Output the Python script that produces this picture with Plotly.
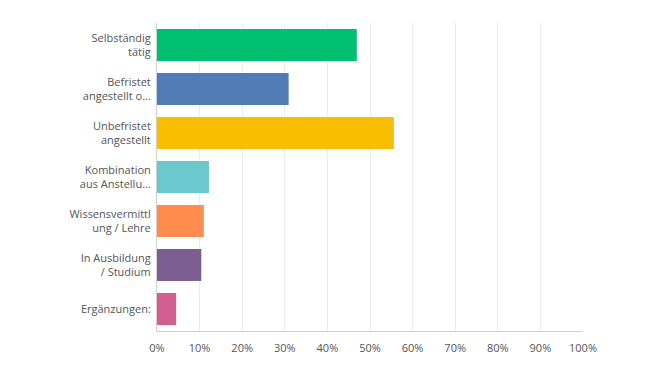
import plotly.graph_objects as go

categories = ["Selbständig<br>tätig", "Befristet<br>angestellt o...", "Unbefristet<br>angestellt",
              "Kombination<br>aus Anstellu...", "Wissensvermittl<br>ung / Lehre",
              "In Ausbildung<br>/ Studium", "Ergänzungen:"]
values = [46.9, 30.9, 55.6, 12.2, 11.0, 10.4, 4.5]
colors = ["#00BF6F", "#507CB6", "#F9BE00", "#6BC8CD", "#FF8B4F", "#7D5E90", "#D25F90"]
tick_vals = [0, 10, 20, 30, 40, 50, 60, 70, 80, 90, 100]
tick_text = [f"{v}%" for v in tick_vals]

fig = go.Figure(go.Bar(
    x=values, y=categories, orientation="h",
    marker=dict(color=colors, line=dict(width=0)),
    hoverinfo="skip",
))

# page body has an 8px default margin, so the figure is offset by 8px
fig.update_layout(
    width=659, height=365,
    margin=dict(l=149, r=84, t=15, b=42, autoexpand=False),
    paper_bgcolor="white", plot_bgcolor="white",
    bargap=0.27,
    showlegend=False,
    font=dict(family="Open Sans, sans-serif", color="#555", size=11),
    xaxis=dict(range=[0, 100], tickvals=tick_vals, ticktext=tick_text,
               showgrid=True, gridcolor="#ebebeb", gridwidth=1, automargin=False,
               zeroline=False, showline=True, linecolor="#d0d0d0", linewidth=1,
               ticks="", ticklen=0, ticklabelstandoff=7,
               tickfont=dict(size=11, color="#555"), fixedrange=True),
    yaxis=dict(autorange="reversed", showgrid=False, zeroline=False, automargin=False,
               showline=True, linecolor="#d0d0d0", linewidth=1,
               ticks="", ticklen=0, ticklabelstandoff=3,
               tickfont=dict(size=11, color="#555"), fixedrange=True),
)

fig.write_html("out.html")
